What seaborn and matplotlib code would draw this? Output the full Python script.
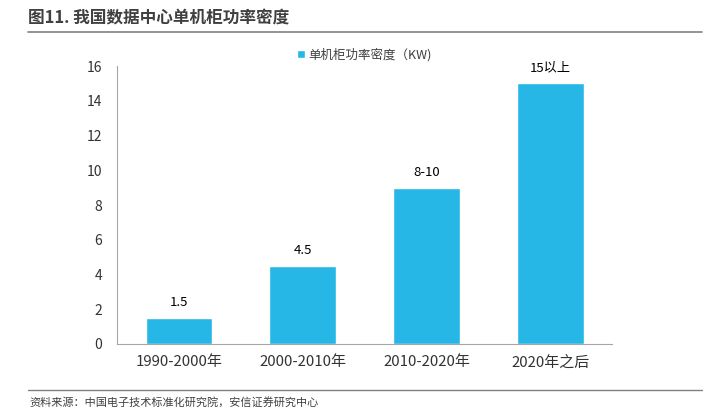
import numpy as np
import pandas as pd
import matplotlib
matplotlib.use("Agg")
import matplotlib.pyplot as plt
import seaborn as sns

# data
periods = ["1990-2000年", "2000-2010年", "2010-2020年", "2020年之后"]
density = [1.5, 4.5, 9, 15]
bar_labels = ["1.5", "4.5", "8-10", "15以上"]
series_name = "单机柜功率密度（KW)"

sns.set_theme(style="white")
plt.rcParams["font.family"] = ["Noto Sans CJK SC", "DejaVu Sans"]
plt.rcParams["axes.unicode_minus"] = False

df = pd.DataFrame({"period": periods, "density": density, "series": series_name})

fig = plt.figure(figsize=(7.06, 4.08), dpi=100)
ax = fig.add_axes([0.166, 0.157, 0.701, 0.681])

bar_color = "#26B7E6"
sns.barplot(data=df, x="period", y="density", hue="series", palette=[bar_color],
            width=0.54, ax=ax, saturation=1, legend=True)

# value labels on top of bars
for i, (v, lab) in enumerate(zip(density, bar_labels)):
    ax.text(i, v + 0.5, lab, ha="center", va="bottom", fontsize=9.5, color="#000000")

ax.set_ylim(0, 16)
ax.set_yticks(np.arange(0, 17, 2))
ax.set_xlim(-0.5, len(periods) - 0.5)
ax.set_xlabel("")
ax.set_ylabel("")

for s in ["top", "right"]:
    ax.spines[s].set_visible(False)
for s in ["left", "bottom"]:
    ax.spines[s].set_color("#A6A6A6")
    ax.spines[s].set_linewidth(0.8)

ax.tick_params(axis="y", length=4, width=0.8, color="#A6A6A6", direction="out",
               labelsize=10, labelcolor="#333333", pad=7)
ax.tick_params(axis="x", which="major", length=0, labelsize=10.8, labelcolor="#333333", pad=8)
ax.set_xticks(np.arange(-0.5, len(periods), 1), minor=True)
ax.tick_params(axis="x", which="minor", length=4, width=0.8, color="#A6A6A6", direction="out")

leg = ax.legend(loc="upper center", bbox_to_anchor=(0.5, 1.105), frameon=False,
                fontsize=9, handlelength=0.6, handleheight=0.6, handletextpad=0.3)
for t in leg.get_texts():
    t.set_color("#404040")

# title and source lines
fig.text(0.040, 0.932, "图11. 我国数据中心单机柜功率密度", fontsize=12, fontweight="bold",
         color="#404040", ha="left", va="bottom")
fig.add_artist(plt.Line2D([0.04, 0.995], [0.922, 0.922], color="#808080", linewidth=1.2))
fig.add_artist(plt.Line2D([0.04, 0.995], [0.044, 0.044], color="#808080", linewidth=1.0))
fig.text(0.042, 0.0, "资料来源：中国电子技术标准化研究院，安信证券研究中心", fontsize=8,
         color="#404040", ha="left", va="bottom", style="italic")

fig.savefig("out.png", dpi=100)
